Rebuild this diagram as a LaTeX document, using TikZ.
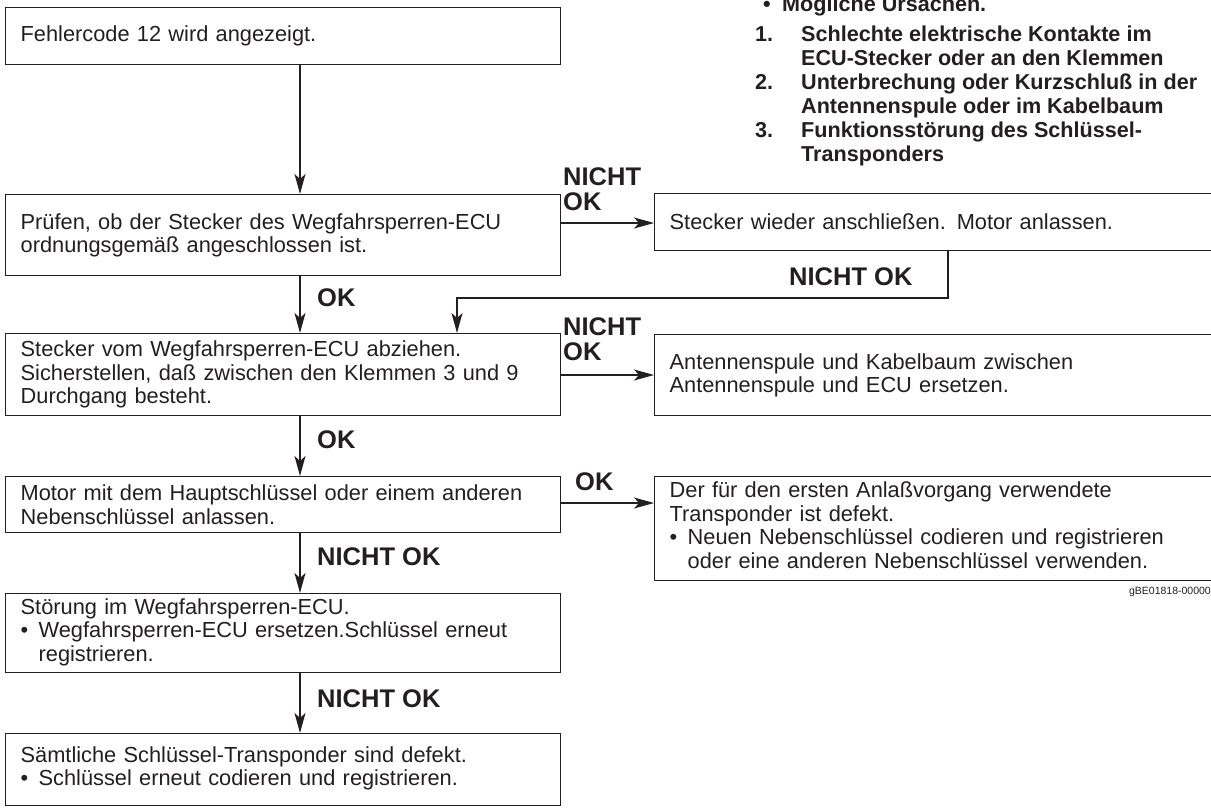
\documentclass[tikz,border=0pt]{standalone}
\usepackage{fontspec}
\setmainfont{Liberation Sans}
\usetikzlibrary{arrows.meta,calc}
\definecolor{ink}{HTML}{231F20}
\setlength{\parindent}{0pt}

\newcommand\bodyfont{\fontsize{21.8}{23.5}\selectfont}
\newcommand\labelfont{\fontsize{25.5}{24.5}\selectfont\bfseries}
\newcommand\causefont{\fontsize{21.6}{24.2}\selectfont\bfseries}
% bulleted entry whose continuation lines hang under the text
\newcommand\bitem[1]{\makebox[18pt][l]{•}\begin{tabular}[t]{@{}l@{}}#1\end{tabular}}

\tikzset{
  box/.style={draw=ink, line width=1.3pt, anchor=north west, inner xsep=15pt,
    inner ysep=0pt, align=left, font=\bodyfont, text=ink},
  lbox/.style={box, minimum width=555pt, text width=525pt},
  rbox/.style={box, minimum width=562pt, text width=532pt},
  flow/.style={draw=ink, line width=1.3pt,
    -{Stealth[length=20pt,width=11pt,inset=5pt]}},
  lbl/.style={font=\labelfont, text=ink, inner sep=0pt, anchor=base west},
}

\begin{document}
\begin{tikzpicture}[x=1pt,y=-1pt]
\useasboundingbox (0,0) rectangle (1211,811);

% left column of checks
\node[lbox, minimum height=57pt] (b1) at (5,7)
  {Fehlercode 12 wird angezeigt.};
\node[lbox, minimum height=81pt] (b2) at (5,194)
  {Prüfen, ob der Stecker des Wegfahrsperren-ECU\\ordnungsgemäß angeschlossen ist.};
\node[lbox, minimum height=82pt] (b3) at (5,333)
  {Stecker vom Wegfahrsperren-ECU abziehen.\\Sicherstellen, daß zwischen den Klemmen 3 und 9\\Durchgang besteht.};
\node[lbox, minimum height=56pt] (b4) at (5,476)
  {Motor mit dem Hauptschlüssel oder einem anderen\\Nebenschlüssel anlassen.};
\node[lbox, minimum height=79pt] (b5) at (5,593)
  {Störung im Wegfahrsperren-ECU.\\\bitem{Wegfahrsperren-ECU ersetzen.Schlüssel erneut\\registrieren.}};
\node[lbox, minimum height=72pt] (b6) at (5,733)
  {Sämtliche Schlüssel-Transponder sind defekt.\\\bitem{Schlüssel erneut codieren und registrieren.}};

% right column of remedies
\node[rbox, minimum height=57pt] (r1) at (654,193)
  {Stecker wieder anschließen. Motor anlassen.};
\node[rbox, minimum height=81pt] (r2) at (654,334)
  {Antennenspule und Kabelbaum zwischen\\Antennenspule und ECU ersetzen.};
\node[rbox, minimum height=104pt] (r3) at (654,476)
  {Der für den ersten Anlaßvorgang verwendete\\Transponder ist defekt.\\\bitem{Neuen Nebenschlüssel codieren und registrieren\\oder eine anderen Nebenschlüssel verwenden.}};

% possible causes
\node[font=\causefont, text=ink, inner sep=0pt, anchor=base west] (dot) at (763,12) {•};
\node[font=\causefont, text=ink, inner sep=0pt, anchor=base west] (causehead) at (782,12) {Mögliche Ursachen.};
\node[font=\causefont, text=ink, inner sep=0pt, anchor=base west] (causes) at (755,41)
  {\begin{tabular}[t]{@{}p{46pt}@{}l@{}}
   1.&Schlechte elektrische Kontakte im\\
     &ECU-Stecker oder an den Klemmen\\
   2.&Unterbrechung oder Kurzschluß in der\\
     &Antennenspule oder im Kabelbaum\\
   3.&Funktionsstörung des Schlüssel-\\
     &Transponders
  \end{tabular}};

\node[font=\fontsize{10.5}{12}\selectfont, text=ink, inner sep=0pt, anchor=base east] (code) at (1211,594) {gBE01818-00000};

% connector columns and rows
\coordinate (cB) at (300,0);
\coordinate (cR) at (948,0);
\coordinate (cL) at (457,0);
\coordinate (ret) at (0,298);
\coordinate (y1) at (0,223);
\coordinate (y2) at (0,375);
\coordinate (y3) at (0,503);

\draw[flow] (b1.south -| cB) -- (b2.north -| cB);
\draw[flow] (b2.south -| cB) -- (b3.north -| cB);
\draw[flow] (b3.south -| cB) -- (b4.north -| cB);
\draw[flow] (b4.south -| cB) -- (b5.north -| cB);
\draw[flow] (b5.south -| cB) -- (b6.north -| cB);
\draw[flow] (b2.east |- y1) -- (r1.west |- y1);
\draw[flow] (b3.east |- y2) -- (r2.west |- y2);
\draw[flow] (b4.east |- y3) -- (r3.west |- y3);
\draw[flow] (r1.south -| cR) -- (cR |- ret) -- (cL |- ret) -- (b3.north -| cL);

% branch labels
\node[lbl] (l1) at (563,185) {\begin{tabular}[t]{@{}l@{}}NICHT\\OK\end{tabular}};
\node[lbl] (l2) at (789,285) {NICHT OK};
\node[lbl] (l3) at (317,306) {OK};
\node[lbl] (l4) at (563,335) {\begin{tabular}[t]{@{}l@{}}NICHT\\OK\end{tabular}};
\node[lbl] (l5) at (317,448) {OK};
\node[lbl] (l6) at (575,490) {OK};
\node[lbl] (l7) at (317,565) {NICHT OK};
\node[lbl] (l8) at (317,707) {NICHT OK};
\end{tikzpicture}
\end{document}
